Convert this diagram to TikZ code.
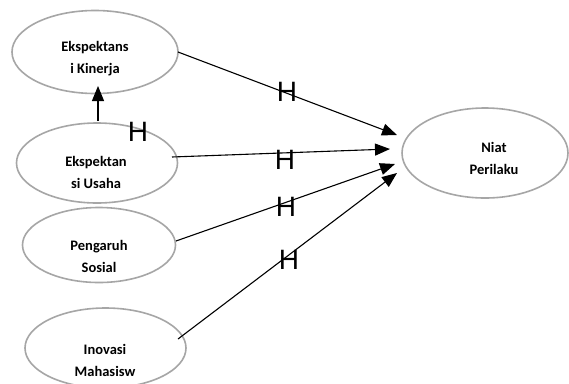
\documentclass[tikz,border=0pt]{standalone}
\usepackage{fontspec}
\setmainfont{Carlito}
\newfontfamily\hfont{Liberation Sans}
\usetikzlibrary{arrows.meta,shapes.geometric}
\tikzset{
  oval/.style={draw=black!35, line width=1.6pt, ellipse, inner sep=0pt},
  lbl/.style={font=\fontsize{14.5}{22}\selectfont\bfseries, align=center, inner sep=0pt},
  hyp/.style={font=\hfont\fontsize{28}{28}\selectfont, inner sep=0pt},
  conn/.style={line width=1.1pt, -{Triangle[length=15pt,width=12pt]}}
}
\begin{document}
\begin{tikzpicture}[x=1pt,y=-1pt]
\clip (0,0) rectangle (569,383);
\fill[white] (0,0) rectangle (569,383);
\node[oval, minimum width=166pt, minimum height=83pt] (e1) at (95,52) {};
\node[oval, minimum width=161pt, minimum height=80pt] (e2) at (97,163) {};
\node[oval, minimum width=153pt, minimum height=75pt] (e3) at (99,245) {};
\node[oval, minimum width=161pt, minimum height=80pt] (e4) at (105.5,348) {};
\node[oval, minimum width=166pt, minimum height=90pt] (niat) at (485,153) {};
\node[lbl] (t1) at (95,59) {Ekspektans\\i Kinerja};
\node[lbl] (t2) at (96,172) {Ekspektan\\si Usaha};
\node[lbl] (t3) at (99,256) {Pengaruh\\Sosial};
\node[lbl] (t4) at (105,360) {Inovasi\\Mahasisw};
\node[lbl] (t5) at (494,158) {Niat\\Perilaku};
\coordinate (a1) at (397,135);
\coordinate (a2) at (390,149);
\coordinate (a3) at (395,164);
\coordinate (a4) at (397,173);
\coordinate (s1) at (178,52);
\coordinate (s2) at (172,157);
\coordinate (s3) at (176,241);
\coordinate (s4) at (178,339);
\coordinate (u1) at (98,121);
\coordinate (u2) at (98,86);
\draw[conn] (s1) -- (a1);
\draw[conn] (s2) -- (a2);
\draw[conn] (s3) -- (a3);
\draw[conn] (s4) -- (a4);
\draw[conn] (u1) -- (u2);
\node[hyp] (h0) at (138,132) {H};
\node[hyp] (h1) at (287,92) {H};
\node[hyp] (h2) at (285,160) {H};
\node[hyp] (h3) at (286,207) {H};
\node[hyp] (h4) at (289,260) {H};
\end{tikzpicture}
\end{document}
